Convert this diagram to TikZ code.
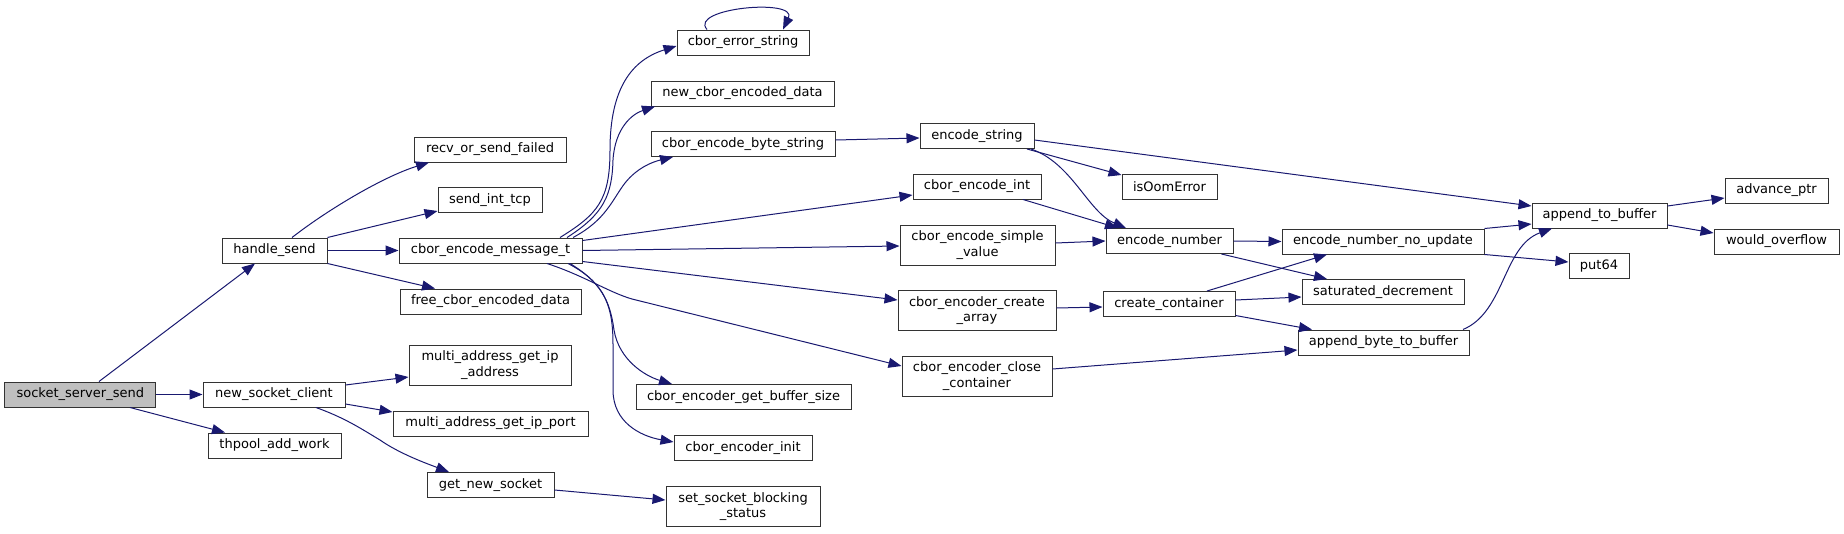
\documentclass[tikz,border=0pt]{standalone}
\usepackage{fontspec}
\setmainfont{DejaVu Sans}
\usetikzlibrary{arrows.meta}
\definecolor{edgec}{HTML}{191970}
\definecolor{rootfill}{HTML}{BFBFBF}
\definecolor{bord}{HTML}{333333}
\begin{document}
\begin{tikzpicture}[x=1pt,y=-1pt,
 fn/.style={draw=bord, line width=1pt, fill=white, inner sep=0pt, minimum height=25pt, font=\fontsize{13}{15.5}\selectfont, align=center},
 fntwo/.style={fn, minimum height=40pt},
 call/.style={draw=edgec, line width=1pt, -{Triangle[length=13pt,width=10pt]}},
]
\useasboundingbox (0,0) rectangle (1844,533);
% nodes
\node[fn, minimum width=151pt, fill=rootfill] (sss) at (80.3,394.5) {socket\_server\_send};
\node[fn, minimum width=105pt] (hs) at (274.5,250.5) {handle\_send};
\node[fn, minimum width=142pt] (nsc) at (274,394.5) {new\_socket\_client};
\node[fn, minimum width=133pt] (thp) at (274.5,445.5) {thpool\_add\_work};
\node[fn, minimum width=152pt] (recv) at (490,149.5) {recv\_or\_send\_failed};
\node[fn, minimum width=104pt] (sit) at (490,200) {send\_int\_tcp};
\node[fn, minimum width=183pt] (cemt) at (490.5,250.5) {cbor\_encode\_message\_t};
\node[fn, minimum width=181pt] (free) at (490.5,301.5) {free\_cbor\_encoded\_data};
\node[fntwo, minimum width=162pt] (magia) at (490,365) {multi\_address\_get\_ip\\\_address};
\node[fn, minimum width=195pt] (magip) at (490.5,423.5) {multi\_address\_get\_ip\_port};
\node[fn, minimum width=127pt] (gns) at (490.5,485) {get\_new\_socket};
\node[fn, minimum width=132pt] (ces) at (743,42.5) {cbor\_error\_string};
\node[fn, minimum width=183pt] (ncbd) at (742.5,93.5) {new\_cbor\_encoded\_data};
\node[fn, minimum width=184pt] (cebs) at (743,144) {cbor\_encode\_byte\_string};
\node[fn, minimum width=215pt] (cegbs) at (743.5,397) {cbor\_encoder\_get\_buffer\_size};
\node[fn, minimum width=138pt] (ceinit) at (743,448) {cbor\_encoder\_init};
\node[fntwo, minimum width=154pt] (ssbs) at (743,506.5) {set\_socket\_blocking\\\_status};
\node[fn, minimum width=114pt] (es) at (977,136) {encode\_string};
\node[fn, minimum width=128pt] (cei) at (977,186.5) {cbor\_encode\_int};
\node[fntwo, minimum width=155pt] (cesv) at (977.5,245) {cbor\_encode\_simple\\\_value};
\node[fntwo, minimum width=158pt] (ceca) at (977,310.5) {cbor\_encoder\_create\\\_array};
\node[fntwo, minimum width=150pt] (cecc) at (977,376) {cbor\_encoder\_close\\\_container};
\node[fn, minimum width=95pt] (isoom) at (1169.5,186.5) {isOomError};
\node[fn, minimum width=127pt] (en) at (1169.5,241) {encode\_number};
\node[fn, minimum width=132pt] (cc) at (1169,304) {create\_container};
\node[fn, minimum width=202pt] (ennu) at (1383,241.5) {encode\_number\_no\_update};
\node[fn, minimum width=162pt] (sd) at (1383,292) {saturated\_decrement};
\node[fn, minimum width=171pt] (abtb) at (1383.5,342.5) {append\_byte\_to\_buffer};
\node[fn, minimum width=135pt] (atb) at (1599.5,215.5) {append\_to\_buffer};
\node[fn, minimum width=60pt] (put) at (1599,266) {put64};
\node[fn, minimum width=103pt] (ap) at (1776.5,190.5) {advance\_ptr};
\node[fn, minimum width=125pt] (wo) at (1776.5,241.5) {would\_overflow};
% edges
\draw[call] ([xshift=18.7pt]sss.north) -- ([xshift=-19.5pt]hs.south);
\draw[call] (sss.east) -- (nsc.west);
\draw[call] ([xshift=49.7pt]sss.south) -- ([xshift=-49.5pt]thp.north);
\draw[call] ([xshift=17.5pt]hs.north) .. controls (330,208) and (385,176) .. ([xshift=-61pt]recv.south);
\draw[call] (hs.north east) -- ([yshift=-11pt]sit.west);
\draw[call] (hs.east) -- (cemt.west);
\draw[call] (hs.south east) -- ([xshift=-55.5pt]free.north);
\draw[call] ([yshift=9.5pt]nsc.east) -- ([yshift=-12pt]magia.west);
\draw[call] ([yshift=-9.5pt]nsc.east) -- ([yshift=11.5pt]magip.west);
\draw[call] ([xshift=42pt]nsc.south) .. controls (345,418) and (360,428) .. (380,440) .. controls (400,454) and (428,464) .. ([xshift=-41.5pt]gns.north);
\draw[call] ([yshift=-5pt]gns.east) -- ([yshift=6.5pt]ssbs.west);
% cbor_encode_message_t fan-out
\draw[call] ([xshift=69.5pt]cemt.north) .. controls (598,214) and (610,200) .. (610,150) .. controls (610,88) and (632,60) .. ([yshift=-3.5pt]ces.west);
\draw[call] ([xshift=76.5pt]cemt.north) .. controls (604,214) and (612,195) .. (613,160) .. controls (615,128) and (632,114) .. ([xshift=-87.5pt]ncbd.south);
\draw[call] ([xshift=82.5pt]cemt.north) .. controls (606,220) and (612,200) .. (625,183) .. controls (637,168) and (652,162) .. ([xshift=-70pt]cebs.south);
\draw[call] ([yshift=10pt]cemt.east) -- ([yshift=-8.5pt]cei.west);
\draw[call] (cemt.east) -- ([yshift=-1pt]cesv.west);
\draw[call] ([yshift=-11pt]cemt.east) -- ([yshift=10.5pt]ceca.west);
\draw[call] ([xshift=56.5pt]cemt.south) .. controls (585,276) and (608,292) .. (632,299) -- ([yshift=10pt]cecc.west);
\draw[call] ([xshift=77.5pt]cemt.south) .. controls (600,280) and (610,300) .. (614,330) .. controls (619,360) and (645,376) .. ([xshift=-71.5pt]cegbs.north);
\draw[call] ([xshift=79.5pt]cemt.south) .. controls (605,285) and (613,305) .. (613,345) -- (613,390) .. controls (613,422) and (640,436) .. ([yshift=6pt]ceinit.west);
\draw[call] ([xshift=-36pt]ces.north) .. controls (688,8) and (798,-2) .. ([xshift=40pt]ces.north);
% right part
\draw[call] ([yshift=4pt]cebs.east) -- ([yshift=-2pt]es.west);
\draw[call] ([yshift=-4pt]es.east) -- ([yshift=9.5pt]atb.west);
\draw[call] ([xshift=50pt]es.south) -- ([yshift=11.5pt]isoom.west);
\draw[call] ([xshift=54pt]es.south) .. controls (1072,163) and (1088,212) .. ([xshift=-43.5pt]en.north);
\draw[call] ([xshift=46pt]cei.south) -- ([xshift=-51.5pt]en.north);
\draw[call] ([yshift=2pt]cesv.east) -- (en.west);
\draw[call] ([yshift=2.5pt]ceca.east) -- ([yshift=-3pt]cc.west);
\draw[call] ([yshift=7pt]cecc.east) -- ([yshift=-7.5pt]abtb.west);
\draw[call] (en.east) -- (ennu.west);
\draw[call] ([xshift=52pt]en.south) -- ([xshift=-56pt]sd.north);
\draw[call] ([xshift=38pt]cc.north) -- ([xshift=-56pt]ennu.south);
\draw[call] ([yshift=4pt]cc.east) -- ([yshift=-5pt]sd.west);
\draw[call] ([yshift=-11.5pt]cc.east) -- ([xshift=-71.5pt]abtb.north);
\draw[call] (ennu.north east) -- ([yshift=-8.5pt]atb.west);
\draw[call] (ennu.south east) -- ([yshift=4pt]put.west);
\draw[call] ([xshift=79.5pt]abtb.north) .. controls (1505,312) and (1503,246) .. ([xshift=-47.5pt]atb.south);
\draw[call] ([yshift=9.5pt]atb.east) -- ([yshift=-7.5pt]ap.west);
\draw[call] ([yshift=-9.5pt]atb.east) -- ([yshift=8.5pt]wo.west);
\end{tikzpicture}
\end{document}
